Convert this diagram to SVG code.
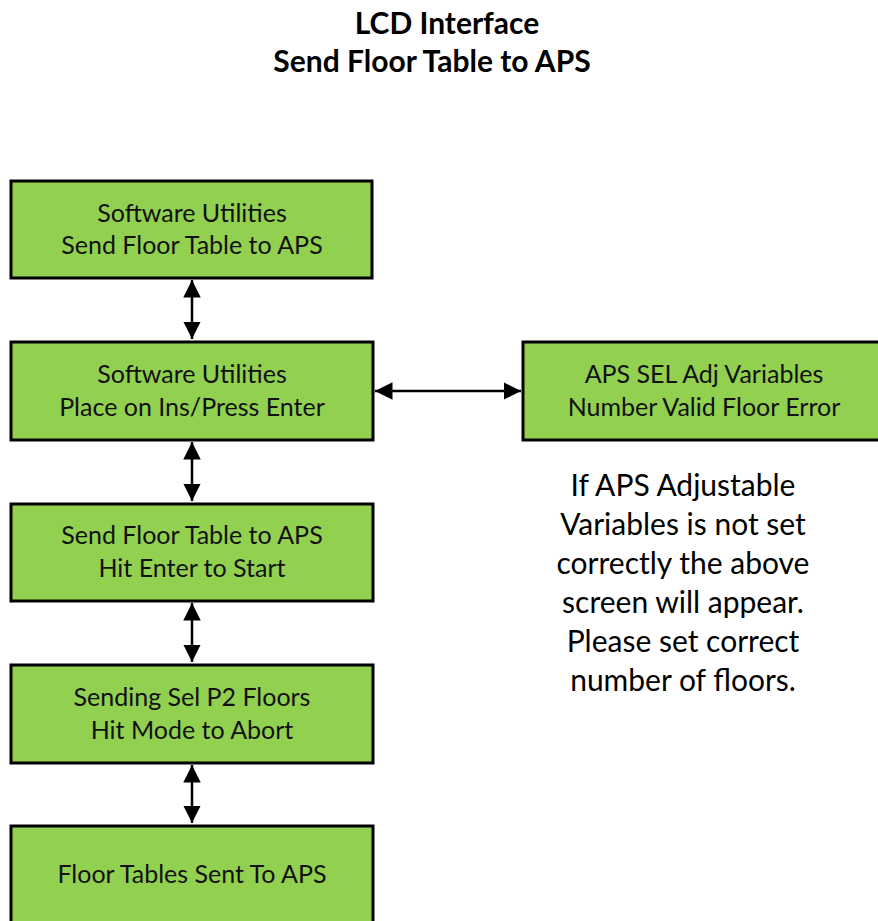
<svg xmlns="http://www.w3.org/2000/svg" width="878" height="921" viewBox="0 0 878 921">
<defs>
<marker id="ah" viewBox="0 0 10 10" refX="10" refY="5" markerWidth="7" markerHeight="7" markerUnits="strokeWidth" orient="auto-start-reverse">
<path d="M0,0 L10,5 L0,10 z" fill="#000"/>
</marker>
<style>
.box{fill:#92D050;stroke:#000;stroke-width:3}
.t{font-family:Lato,"Open Sans",sans-serif;font-size:25px;fill:#111;text-anchor:middle}
.title{font-family:Lato,"Open Sans",sans-serif;font-size:30px;font-weight:bold;fill:#000;text-anchor:middle}
.note{font-family:Lato,"Open Sans",sans-serif;font-size:30px;fill:#000;text-anchor:middle}
.c{stroke:#000;stroke-width:2.5;fill:none;marker-start:url(#ah);marker-end:url(#ah)}
</style>
</defs>
<rect width="878" height="921" fill="#fff"/>
<g id="title">
<text class="title" x="447" y="34">LCD Interface</text>
<text class="title" x="432" y="72">Send Floor Table to APS</text>
</g>
<g id="connectors">
<line class="c" x1="192" y1="280" x2="192" y2="339"/>
<line class="c" x1="192" y1="442" x2="192" y2="501"/>
<line class="c" x1="192" y1="603" x2="192" y2="662"/>
<line class="c" x1="192" y1="765" x2="192" y2="823"/>
<line class="c" x1="375" y1="391" x2="521" y2="391"/>
</g>
<g id="n1">
<rect class="box" x="11" y="181" width="361" height="97"/>
<text class="t" x="192" y="222">Software Utilities</text>
<text class="t" x="192" y="254">Send Floor Table to APS</text>
</g>
<g id="n2">
<rect class="box" x="11" y="342" width="362" height="98"/>
<text class="t" x="192" y="383">Software Utilities</text>
<text class="t" x="192" y="416">Place on Ins/Press Enter</text>
</g>
<g id="n3">
<rect class="box" x="523" y="342" width="360" height="98"/>
<text class="t" x="704" y="383">APS SEL Adj Variables</text>
<text class="t" x="704" y="416">Number Valid Floor Error</text>
</g>
<g id="n4">
<rect class="box" x="11" y="504" width="362" height="97"/>
<text class="t" x="192" y="544">Send Floor Table to APS</text>
<text class="t" x="192" y="577">Hit Enter to Start</text>
</g>
<g id="n5">
<rect class="box" x="11" y="665" width="362" height="98"/>
<text class="t" x="192" y="706">Sending Sel P2 Floors</text>
<text class="t" x="192" y="739">Hit Mode to Abort</text>
</g>
<g id="n6">
<rect class="box" x="11" y="826" width="362" height="110"/>
<text class="t" x="192" y="883">Floor Tables Sent To APS</text>
</g>
<g id="note">
<text class="note" x="683" y="496">If APS Adjustable</text>
<text class="note" x="683" y="535">Variables is not set</text>
<text class="note" x="683" y="574">correctly the above</text>
<text class="note" x="683" y="613">screen will appear.</text>
<text class="note" x="683" y="652">Please set correct</text>
<text class="note" x="683" y="691">number of floors.</text>
</g>
</svg>
